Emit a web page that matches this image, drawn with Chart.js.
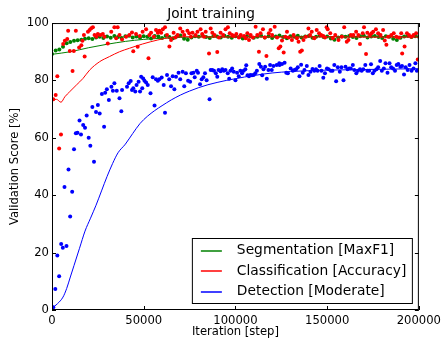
<!DOCTYPE html>
<html lang="en">
<head>
<meta charset="UTF-8">
<title>Joint training</title>
<script src="https://cdn.jsdelivr.net/npm/chart.js"></script>
<style>
    body {
        margin: 0;
        background: #fff;
    }
    .chart-box {
        width: 445px;
        height: 341px;
    }
</style>
</head>
<body>
<div class="chart-box"><canvas id="jointChart" width="445" height="341"></canvas></div>
<script>
// Validation points (iteration, score %)
const segIters = [0,2000,4000,6000,8000,10000,12000,14000,16000,18000,20000,22000,24000,26000,28000,30000,32000,34000,36000,38000,40000,42000,44000,46000,48000,50000,52000,54000,56000,58000,60000,62000,64000,66000,68000,70000,72000,74000,76000,78000,80000,82000,84000,86000,88000,90000,92000,94000,96000,98000,100000,102000,104000,106000,108000,110000,112000,114000,116000,118000,120000,122000,124000,126000,128000,130000,132000,134000,136000,138000,140000,142000,144000,146000,148000,150000,152000,154000,156000,158000,160000,162000,164000,166000,168000,170000,172000,174000,176000,178000,180000,182000,184000,186000,188000,190000,192000,194000,196000,198000,200000];
const segScores = [89.2,90.4,90.8,91.7,93,93.4,93.8,94,94.2,94.5,94.7,94.4,95,95.2,94.8,95.3,94.9,95.5,95.1,94.8,95.4,95.6,95,95.3,94.9,95.4,95.2,94.6,95.5,95.3,94.8,95.6,95.1,94.7,95.3,95.7,94.5,94.2,95,95.4,95.2,95.8,95.1,94.8,95.5,95.3,95,95.6,95.2,94.9,95.4,95.1,94.6,95.3,95.5,94.9,95.2,95.6,95,95.4,94.8,95.3,95.7,95.1,94.7,95.4,95.2,95.6,95,95.3,95.5,94.9,95.2,95.6,95.1,95.3,94.6,94.2,95,95.4,95.2,95.5,95.1,94.8,95.4,95.6,95,95.3,95.5,95.1,94.8,95.4,95.2,94.5,94.1,94.9,95.3,95.5,95.1,95.4,95.2];

const clsIters = [700,2000,2900,3900,4900,6100,7000,8300,8800,9700,11200,11900,13000,14800,16000,16600,17400,17800,19600,20500,21400,22300,23200,24200,25000,26300,27700,28600,30400,32300,34000,35000,35800,36800,38200,40400,42200,43600,44300,45800,46700,47900,49400,51300,52600,53100,54000,55500,56700,57700,58500,59500,60400,61600,62700,64000,64900,66300,67200,68500,69900,71200,72100,73800,74800,75700,76600,78300,79300,81000,81900,82900,83800,85600,86500,87400,88600,90100,91000,91900,93300,94600,95900,96900,98200,99100,100500,101900,102900,104700,105600,106500,107400,108300,109500,111000,111900,112800,113700,115000,116000,116900,118200,119100,120000,121400,122700,123600,124500,125400,126300,127200,128100,129000,130800,131700,133500,134400,135300,136200,137100,138400,139800,140700,141600,143000,144300,145600,146700,147900,148800,149700,150300,151700,153100,154400,156200,158000,159300,160700,161600,162900,164300,165800,167000,167900,169400,170100,171200,171900,173300,174200,175100,176600,177800,179100,180500,181400,182300,183200,185000,186300,187700,189200,190400,190900,192200,193500,194600,195800,197100,198500,199400];
const clsScores = [73.4,74.9,81.5,56.3,61.2,92.7,93.8,94.4,97.3,90.3,83.3,90.3,97.3,91.5,92.3,93.8,95.8,88.3,97,97.6,98.2,98.5,95.8,95.2,96.2,95.8,96.2,95.2,92.9,97,98.5,94.7,98.5,95.8,94.3,95.2,95.8,96.7,90.2,96.2,91.7,95.5,97,97.8,87.7,95.8,96.6,95.2,97.6,96.6,97.3,96.6,97.8,98.5,95.8,91.8,94.1,96.6,95,95.8,98.1,97,95.8,97.3,96.4,95.2,96.6,95.8,97,97.8,96.2,95.2,97,89.4,98.1,96.6,95.8,89.9,95,96.6,95.8,97.8,98.5,96.4,95.8,95.5,96.2,95,95.8,95.5,94.7,96.4,94.1,95.8,95,98.7,95.8,90,96.4,97.8,95,88.5,96.4,97.6,95.8,98.7,95,91.2,91.8,93.9,89.7,95.2,97,95,94.1,95.8,94.7,93.5,90,90.4,94.1,95.2,98.1,95.8,97,94.7,97.6,96.4,95.8,95.5,95,98.5,97.8,96.4,94.7,95.8,94.1,95.2,98.5,93.5,94.1,95.8,95.8,97,95.8,92.7,96.4,98.5,89.2,96.6,95.8,96.4,97,97.8,96.4,95.8,97.6,93.9,92.4,95.2,95.8,96.4,95.2,95,96.4,89.4,91.8,96.4,95.8,95.2,95.8,96.4,87.3];

const detIters = [700,1800,2900,3900,5000,5900,6800,7900,9000,9900,11000,12000,13000,13900,15000,15800,17000,18000,18900,20000,20900,22000,22900,24000,25000,26000,27200,28400,29000,29900,31000,32400,33200,34000,35300,36800,37800,38200,40900,41800,42900,43600,44300,45400,46100,47200,48000,48600,49200,49700,50400,51300,52200,53700,54900,55900,56700,57700,58500,59800,60900,61600,62700,63900,64900,65800,66700,67600,69000,69900,71200,72100,73000,74200,75300,76000,77100,77800,78900,79600,80700,81600,82500,83400,84300,85900,86500,87400,88300,89300,90100,90800,91900,92800,93700,94600,95800,96600,97300,98200,99100,100000,100900,101800,102700,103600,104500,105400,105900,106600,107400,108100,109000,109900,110800,111700,113000,113900,114600,115300,116200,117100,118000,118900,119800,120700,122500,123900,124100,125400,126800,127700,128600,130100,131300,132200,133100,134000,134900,135800,136700,137600,138900,139800,140900,142000,143000,143900,144800,145900,146900,147900,148800,149900,150800,152000,152900,153900,154900,155800,156900,157800,158900,160000,161100,162000,162900,164000,164800,165900,166800,167900,168800,169700,170800,171900,172900,173900,174900,175800,176900,177800,178900,179800,180900,181800,182900,184000,184900,185900,187000,187900,188800,189900,190800,191900,192800,193900,194900,196000,197100,198100,198900];
const detScores = [1,7.3,19,11.8,23,21.7,42.9,22.3,49,32.6,41.2,56,61.6,61.8,66,61.2,64.5,63.5,67.8,60,57.2,70.7,51.7,69,71.4,68.5,75.3,63.9,75.7,76.9,73.2,77.8,76.4,79,76.4,73.8,69.3,76.7,77.8,79,79.8,76.7,77.3,76.1,78.4,79.5,76.1,81.3,77.3,80.7,79.9,79.3,78.4,75.5,81.1,71.3,80.4,79.9,80.4,81,78.4,68.7,81.9,80.4,78,81.5,76.9,81.3,82.7,80.4,83,78,82.5,79.9,79.5,82.5,82.7,81.1,83.4,82.7,78.7,80.4,81.1,82.5,80.1,73.4,83.6,83.6,83.4,82.5,81.3,83.6,83.2,83.9,83.4,83.6,82.5,80.6,83.4,84.2,83,80.1,82.7,81.5,83.4,82.5,83.4,83.9,85.3,81.8,81.5,81.9,81.8,81.9,82.5,83.4,85.7,84.8,81.8,83.9,84.8,80.6,83.6,85.4,83.6,85,85.4,86,85.4,85.7,86.2,82.7,82.5,84.2,83.4,83.6,83.9,84.6,81.5,85.5,82.7,83.6,85,81.9,83,84,83.4,83.9,83.4,85,83.4,80.9,82.5,84.2,83.9,83.4,83.4,85.4,79.7,84.6,83,84.6,80.1,84.8,83.9,84.2,84.2,85.4,83.6,82.5,83.4,83.9,83.4,83.9,85.4,83.4,83.4,85.6,82.5,83.4,83.9,84.6,86.8,83.4,84.2,86,82.7,86,84.6,84.2,83.4,85.4,85.7,84.8,85,82.1,84.6,83.6,85.4,83.4,84.2,86,83.4];

// Smoothed curves
const segTrendIters = [0,10000,20000,30000,40000,50000,60000,70000,85000,100000,130000,160000,200000];
const segTrend = [89.1,90,91.4,92.6,93.6,94.3,94.7,95,95.2,95.2,95.3,95.3,95.3];
const clsTrendIters = [0,2500,4900,7000,9700,13300,16900,20500,25900,31300,36800,42200,49400,57700,65000,75000,90000,110000,130000,150000,170000,200000];
const clsTrend = [73.4,73.4,72.4,74.3,76.1,78.4,80.7,83.6,86.5,88.3,90,91.2,92.7,94.1,95,95.2,95.1,95.2,95.1,95.2,95.1,95.1];
const detTrendIters = [0,3000,6000,8000,10000,12000,15000,18000,21000,24000,27000,30000,33000,36000,40000,44000,48000,52000,56000,60000,65000,70000,75000,80000,85000,90000,95000,100000,105000,110000,115000,120000,130000,140000,150000,160000,170000,180000,190000,200000];
const detTrend = [0.6,2.2,4.5,7.5,11.5,15.5,21.5,27.5,32,36.5,41.5,46.5,51,54.8,57.8,61.5,65,67.5,69.5,71.2,73.2,74.9,76.3,77.5,78.5,79.3,80,80.6,81.2,81.7,82.2,82.6,83.1,83.4,83.6,83.7,83.8,83.9,84,84.1];

const seriesLabels = ['Segmentation [MaxF1]', 'Classification [Accuracy]', 'Detection [Moderate]'];
const seriesColors = ['#008000', '#ff0000', '#0000ff'];

const xTickStep = 50000;
const yTickStep = 20;

function toPoints(xs, ys) {
    return xs.map((x, i) => ({ x: x, y: ys[i] }));
}

function dots(data, color, order) {
    return {
        data: data,
        showLine: false,
        pointRadius: 2,
        pointBorderWidth: 0,
        pointBackgroundColor: color,
        backgroundColor: color,
        order: order
    };
}

function curve(label, data, color, order) {
    return {
        label: label,
        data: data,
        showLine: true,
        borderColor: color,
        backgroundColor: color,
        borderWidth: 1,
        pointRadius: 0,
        fill: false,
        cubicInterpolationMode: 'monotone',
        order: order
    };
}

// matplotlib-style frame with inward ticks on all sides
const framePlugin = {
    id: 'frame',
    afterDatasetsDraw(chart) {
        const { ctx, chartArea: a, scales: { x, y } } = chart;
        const len = 4;
        ctx.save();
        ctx.strokeStyle = '#000';
        ctx.lineWidth = 1;
        ctx.beginPath();
        x.ticks.forEach(t => {
            const px = Math.round(x.getPixelForValue(t.value)) + 0.5;
            ctx.moveTo(px, a.bottom); ctx.lineTo(px, a.bottom - len);
            ctx.moveTo(px, a.top); ctx.lineTo(px, a.top + len);
        });
        y.ticks.forEach(t => {
            const py = Math.round(y.getPixelForValue(t.value)) + 0.5;
            ctx.moveTo(a.left, py); ctx.lineTo(a.left + len, py);
            ctx.moveTo(a.right, py); ctx.lineTo(a.right - len, py);
        });
        ctx.stroke();
        ctx.strokeRect(a.left + 0.5, a.top + 0.5, a.width - 1, a.height - 1);
        ctx.restore();
    }
};

// legend box in the lower right corner of the plot
const legendBox = {
    id: 'legendBox',
    afterDraw(chart) {
        const { ctx, chartArea: a } = chart;
        ctx.save();
        ctx.font = '13.8px "DejaVu Sans", sans-serif';
        const textW = Math.max(...seriesLabels.map(t => ctx.measureText(t).width));
        const rowH = 20.5;
        const w = Math.round(45 + textW + 6);
        const h = 65;
        const right = a.right - 7;
        const bottom = a.bottom - 7;
        const left = right - w;
        const top = bottom - h;
        ctx.fillStyle = '#fff';
        ctx.fillRect(left, top, w, h);
        ctx.strokeStyle = '#000';
        ctx.lineWidth = 1;
        ctx.strokeRect(left + 0.5, top + 0.5, w, h);
        seriesLabels.forEach((label, i) => {
            const cy = top + 12.5 + i * rowH;
            ctx.beginPath();
            ctx.strokeStyle = seriesColors[i];
            ctx.lineWidth = 1.5;
            ctx.moveTo(left + 9, Math.round(cy));
            ctx.lineTo(left + 30, Math.round(cy));
            ctx.stroke();
            ctx.fillStyle = '#000';
            ctx.textBaseline = 'middle';
            ctx.textAlign = 'left';
            ctx.fillText(label, left + 45, cy);
        });
        ctx.restore();
    }
};

Chart.defaults.font.family = '"DejaVu Sans", sans-serif';
Chart.defaults.color = '#000';

const chart = new Chart(document.getElementById('jointChart'), {
    type: 'scatter',
    data: {
        datasets: [
            dots(toPoints(segIters, segScores), seriesColors[0], 6),
            curve(seriesLabels[0], toPoints(segTrendIters, segTrend), seriesColors[0], 5),
            dots(toPoints(clsIters, clsScores), seriesColors[1], 4),
            curve(seriesLabels[1], toPoints(clsTrendIters, clsTrend), seriesColors[1], 3),
            dots(toPoints(detIters, detScores), seriesColors[2], 2),
            curve(seriesLabels[2], toPoints(detTrendIters, detTrend), seriesColors[2], 1)
        ]
    },
    options: {
        responsive: false,
        animation: false,
        layout: { padding: { left: 0, right: 23, top: 0, bottom: 0 } },
        plugins: {
            legend: { display: false },
            tooltip: { enabled: false },
            title: {
                display: true,
                text: 'Joint training',
                color: '#000',
                font: { size: 13.7, weight: 'normal' },
                padding: { top: 6.6, bottom: 0 }
            }
        },
        scales: {
            x: {
                type: 'linear',
                min: 0,
                max: 200000,
                grid: { display: false, drawTicks: false },
                border: { display: false },
                ticks: {
                    stepSize: xTickStep,
                    padding: 4,
                    maxRotation: 0,
                    autoSkip: false,
                    color: '#000',
                    font: { size: 11.6 },
                    callback: v => String(v)
                },
                title: {
                    display: true,
                    text: 'Iteration [step]',
                    color: '#000',
                    font: { size: 11.6 },
                    padding: { top: 0, bottom: 2 }
                },
                afterFit: s => { s.height = 31; }
            },
            y: {
                min: 0,
                max: 100,
                grid: { display: false, drawTicks: false },
                border: { display: false },
                ticks: {
                    stepSize: yTickStep,
                    padding: 3,
                    color: '#000',
                    font: { size: 11.6 },
                    callback: v => String(v)
                },
                title: {
                    display: true,
                    text: 'Validation Score [%]',
                    color: '#000',
                    font: { size: 11.6 },
                    padding: { top: 8, bottom: 0 }
                },
                afterFit: s => { s.width = 52; }
            }
        }
    },
    plugins: [framePlugin, legendBox]
});
</script>
</body>
</html>
